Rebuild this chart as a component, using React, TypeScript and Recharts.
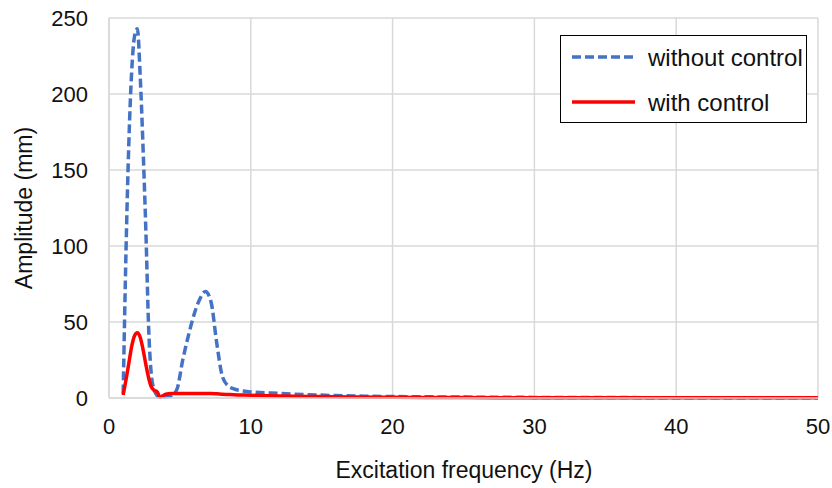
import React from "react";
import { CartesianGrid, Line, LineChart, XAxis, YAxis } from "recharts";

const freq = [1, 1.2, 1.4, 1.6, 1.8, 2, 2.2, 2.4, 2.6, 2.8, 3, 3.2, 3.4, 3.6, 3.8, 4, 4.4, 4.8, 5.2, 5.6, 6, 6.4, 6.8, 7.2, 7.6, 8, 8.4, 8.8, 9.2, 10, 12, 14, 16, 18, 20, 25, 30, 35, 40, 45, 50];
const withoutControl = [3, 97, 168, 215, 238, 243, 212, 165, 110, 45, 14, 5, 1.5, 0.5, 0.5, 0.8, 1.5, 6, 25, 41, 55, 65, 70, 63, 36, 14, 8, 6, 5, 4, 3, 2.2, 1.6, 1.2, 1, 0.6, 0.4, 0.3, 0.2, 0.15, 0.1];
const withControl = [2, 12, 23, 34, 41, 43, 40, 32, 22, 13, 7, 5, 4, 0.5, 1.5, 2.5, 3, 3, 3, 3, 3, 3, 3, 3, 2.8, 2.5, 2.3, 2.1, 2, 1.8, 1.3, 1, 0.8, 0.6, 0.5, 0.3, 0.2, 0.15, 0.1, 0.1, 0.1];
const xTicks = [0, 10, 20, 30, 40, 50];
const yTicks = [0, 50, 100, 150, 200, 250];
const seriesNames = ["without control", "with control"];

const data = freq.map((f, i) => ({ f, a: withoutControl[i], b: withControl[i] }));

const font = "'Liberation Sans', Arial, sans-serif";

// legend drawn on top of the chart, Excel-style box
const LegendBox = () => (
  <svg width={247} height={88} style={{ position: "absolute", left: 560, top: 35 }}>
    <rect x={0.5} y={0.5} width={246} height={87} fill="#fff" stroke="#000" strokeWidth={1} />
    <line x1={12} x2={75} y1={22} y2={22} stroke="#4472C4" strokeWidth={3.5} strokeDasharray="9 4" />
    <text x={88} y={22} dominantBaseline="central" fontSize={24} fontFamily={font} fill="#111">{seriesNames[0]}</text>
    <line x1={12} x2={75} y1={67} y2={67} stroke="#FF0000" strokeWidth={3.5} />
    <text x={88} y={67} dominantBaseline="central" fontSize={24} fontFamily={font} fill="#111">{seriesNames[1]}</text>
  </svg>
);

export default function App() {
  return (
    <div style={{ position: "absolute", left: 0, top: 0, width: 832, height: 488, background: "#fff" }}>
      <LineChart width={832} height={488} data={data} margin={{ top: 18, right: 14, left: 0, bottom: 0 }}>
        <CartesianGrid stroke="#d9d9d9" strokeWidth={1.5} />
        <XAxis
          dataKey="f"
          type="number"
          domain={[0, 50]}
          ticks={xTicks}
          height={90}
          tickSize={0}
          tickMargin={20}
          axisLine={{ stroke: "#d9d9d9", strokeWidth: 1.5 }}
          tickLine={false}
          tick={{ fontSize: 22, fill: "#111", fontFamily: font }}
          label={{
            content: () => (
              <text x={464} y={470} textAnchor="middle" dominantBaseline="central" fontSize={23} fontFamily={font} fill="#111">
                Excitation frequency (Hz)
              </text>
            ),
          }}
        />
        <YAxis
          type="number"
          domain={[0, 250]}
          ticks={yTicks}
          width={109}
          tickSize={0}
          tickMargin={21}
          axisLine={{ stroke: "#d9d9d9", strokeWidth: 1.5 }}
          tickLine={false}
          tick={{ fontSize: 22, fill: "#111", fontFamily: font }}
          label={{
            content: () => (
              <text x={24} y={208} transform="rotate(-90 24 208)" textAnchor="middle" dominantBaseline="central" fontSize={23} fontFamily={font} fill="#111">
                Amplitude (mm)
              </text>
            ),
          }}
        />
        <Line type="monotone" dataKey="a" name={seriesNames[0]} stroke="#4472C4" strokeWidth={3.5} strokeDasharray="9 4" dot={false} isAnimationActive={false} />
        <Line type="monotone" dataKey="b" name={seriesNames[1]} stroke="#FF0000" strokeWidth={3.5} dot={false} isAnimationActive={false} />
      </LineChart>
      <LegendBox />
    </div>
  );
}
